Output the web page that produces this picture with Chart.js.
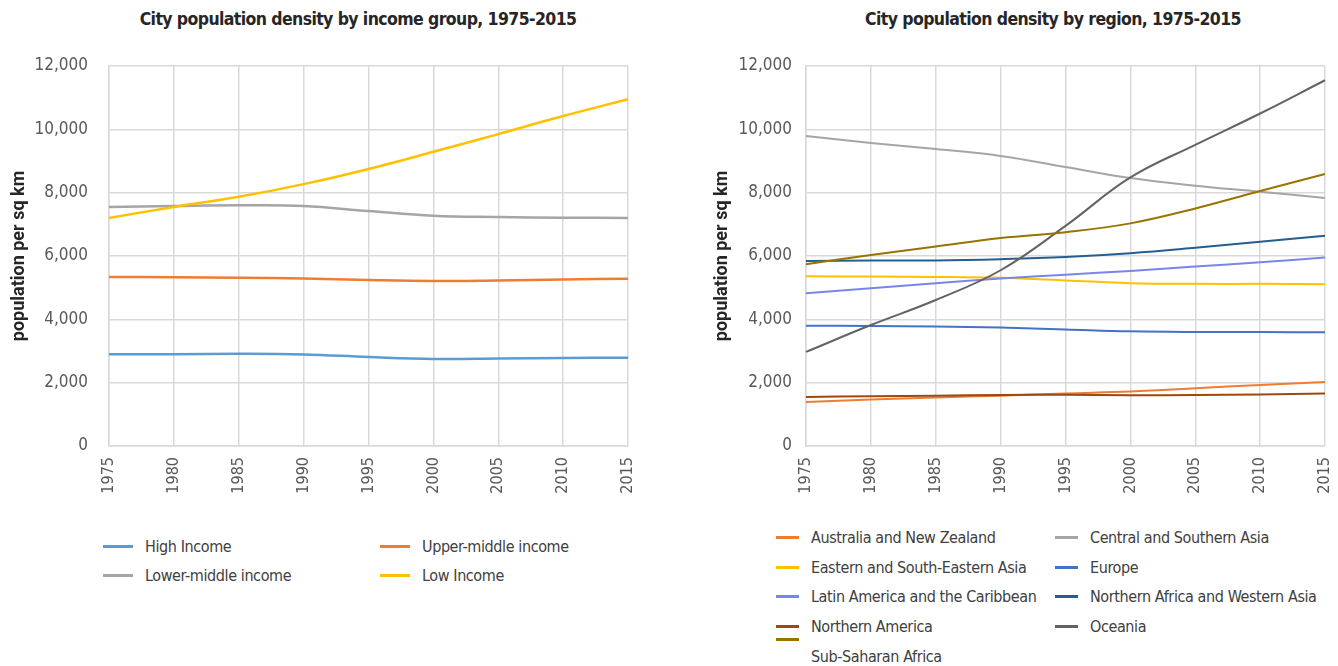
<!DOCTYPE html>
<html>
<head>
<meta charset="utf-8">
<script src="https://cdn.jsdelivr.net/npm/chart.js@4.4.1/dist/chart.umd.min.js"></script>
<style>
  body { margin:0; background:#fff; width:1338px; height:666px; overflow:hidden; position:relative; }
  .box { position:absolute; top:0; }
  .ttl { position:absolute; top:9px; font:bold 17.5px 'DejaVu Sans Condensed','Roboto',sans-serif; letter-spacing:-0.6px; color:#262626; white-space:nowrap; transform:translateX(-50%); }
  .lg { position:absolute; display:grid; font:16px 'DejaVu Sans Condensed','Roboto',sans-serif; letter-spacing:-0.4px; color:#404040; }
  .lg div { display:flex; align-items:center; white-space:nowrap; }
  .lg span.mk { display:inline-block; flex-shrink:0; margin-right:12px; position:relative; }
</style>
</head>
<body>
<div class="ttl" style="left:358px">City population density by income group, 1975-2015</div>
<div class="ttl" style="left:1053px">City population density by region, 1975-2015</div>
<div class="box" style="left:0;width:650px;height:506px"><canvas id="c1"></canvas></div>
<div class="box" style="left:690px;width:648px;height:506px"><canvas id="c2"></canvas></div>
<div class="lg" id="lg1" style="left:103px;top:532px;grid-template-columns:277px 277px;grid-auto-rows:29px"></div>
<div class="lg" id="lg2" style="left:776px;top:523px;grid-template-columns:279px 279px;grid-auto-rows:29.6px"></div>
<script>
var years = ['1975','1980','1985','1990','1995','2000','2005','2010','2015'];

// income groups
var highIncome = [2900, 2900, 2910, 2890, 2810, 2750, 2760, 2780, 2790];
var upperMiddle = [5340, 5330, 5310, 5290, 5240, 5210, 5230, 5260, 5280];
var lowerMiddle = [7550, 7580, 7600, 7580, 7420, 7270, 7230, 7210, 7200];
var lowIncome = [7200, 7550, 7870, 8270, 8750, 9290, 9850, 10420, 10950];

// regions
var ausNz = [1390, 1470, 1530, 1590, 1660, 1720, 1820, 1930, 2020];
var centralSouthAsia = [9790, 9570, 9380, 9160, 8810, 8460, 8220, 8030, 7830];
var eastSEAsia = [5360, 5350, 5340, 5310, 5230, 5140, 5120, 5120, 5110];
var europe = [3800, 3790, 3770, 3740, 3680, 3620, 3600, 3600, 3590];
var latinAm = [4820, 4980, 5140, 5290, 5410, 5530, 5670, 5800, 5950];
var nAfricaWAsia = [5840, 5860, 5860, 5900, 5970, 6090, 6260, 6450, 6640];
var northAm = [1550, 1570, 1590, 1610, 1620, 1600, 1610, 1630, 1660];
var oceania = [2970, 3820, 4610, 5550, 6950, 8480, 9510, 10500, 11550];
var subSahara = [5740, 6030, 6300, 6570, 6750, 7030, 7500, 8050, 8590];

var yTicks = [0, 2000, 4000, 6000, 8000, 10000, 12000];

var tickFont = "'DejaVu Sans Condensed', Roboto, sans-serif";

function ds(label, data, color, w, n, i) {
  return { label: label, data: data, borderColor: color, backgroundColor: color,
    borderWidth: w, pointRadius: 0, tension: 0.4, fill: false, order: n - i };
}

function opts(yw, titlePad, tickPad, padRight) {
  return {
    responsive: true,
    maintainAspectRatio: false,
    animation: false,
    layout: { padding: { left: 0, right: padRight, top: 66, bottom: 0 } },
    plugins: { legend: { display: false }, tooltip: { enabled: false } },
    scales: {
      x: {
        grid: { color: '#d9d9d9', lineWidth: 1.5, drawTicks: false },
        border: { color: '#d9d9d9', width: 1.5 },
        ticks: { color: '#595959', font: { family: tickFont, size: 16 },
          minRotation: 90, maxRotation: 90, padding: 11, autoSkip: false },
        afterFit: function (s) { s.height = 60; s.paddingLeft = 0; s.paddingRight = 0; }
      },
      y: {
        min: 0, max: 12000,
        afterBuildTicks: function (s) { s.ticks = yTicks.map(function (v) { return { value: v }; }); },
        grid: { color: '#d9d9d9', lineWidth: 1.5, drawTicks: false },
        border: { color: '#d9d9d9', width: 1.5 },
        ticks: { color: '#595959', font: { family: tickFont, size: 17 },
          padding: tickPad, callback: function (v) { return v.toLocaleString('en-US'); } },
        title: { display: true, text: 'population per sq km', color: '#262626',
          font: { family: 'Roboto, sans-serif', size: 18, weight: 'bold' }, padding: { top: titlePad, bottom: 0 } },
        afterFit: function (s) { s.width = yw; s.paddingTop = 0; s.paddingBottom = 0; }
      }
    }
  };
}

var set1 = [
  ['High Income', highIncome, '#5b9bd5'],
  ['Upper-middle income', upperMiddle, '#ed7d31'],
  ['Lower-middle income', lowerMiddle, '#a5a5a5'],
  ['Low Income', lowIncome, '#ffc000']
];
var set2 = [
  ['Australia and New Zealand', ausNz, '#ed7d31'],
  ['Central and Southern Asia', centralSouthAsia, '#a5a5a5'],
  ['Eastern and South-Eastern Asia', eastSEAsia, '#ffc000'],
  ['Europe', europe, '#4472c4'],
  ['Latin America and the Caribbean', latinAm, '#7986e8'],
  ['Northern Africa and Western Asia', nAfricaWAsia, '#255e91'],
  ['Northern America', northAm, '#9e480e'],
  ['Oceania', oceania, '#636363'],
  ['Sub-Saharan Africa', subSahara, '#997300']
];

var chart1 = new Chart(document.getElementById('c1'), {
  type: 'line',
  data: { labels: years, datasets: set1.map(function (s, i) { return ds(s[0], s[1], s[2], 2.5, set1.length, i); }) },
  options: opts(109, 9, 21, 22)
});
var chart2 = new Chart(document.getElementById('c2'), {
  type: 'line',
  data: { labels: years, datasets: set2.map(function (s, i) { return ds(s[0], s[1], s[2], 2, set2.length, i); }) },
  options: opts(116, 22, 14, 13)
});

function buildLegend(chart, id, mw, mh) {
  var el = document.getElementById(id);
  var list = chart.data.datasets;
  list.forEach(function (d, i) {
    var item = document.createElement('div');
    var mk = document.createElement('span');
    mk.className = 'mk';
    mk.style.width = mw + 'px';
    mk.style.height = mh + 'px';
    mk.style.background = d.borderColor;
    // lone last entry: marker sits higher, as in the original legend
    if (i === list.length - 1 && list.length % 2 === 1) mk.style.top = '-17px';
    item.appendChild(mk);
    item.appendChild(document.createTextNode(d.label));
    el.appendChild(item);
  });
}
buildLegend(chart1, 'lg1', 30, 3);
buildLegend(chart2, 'lg2', 23, 3);
</script>
</body>
</html>
